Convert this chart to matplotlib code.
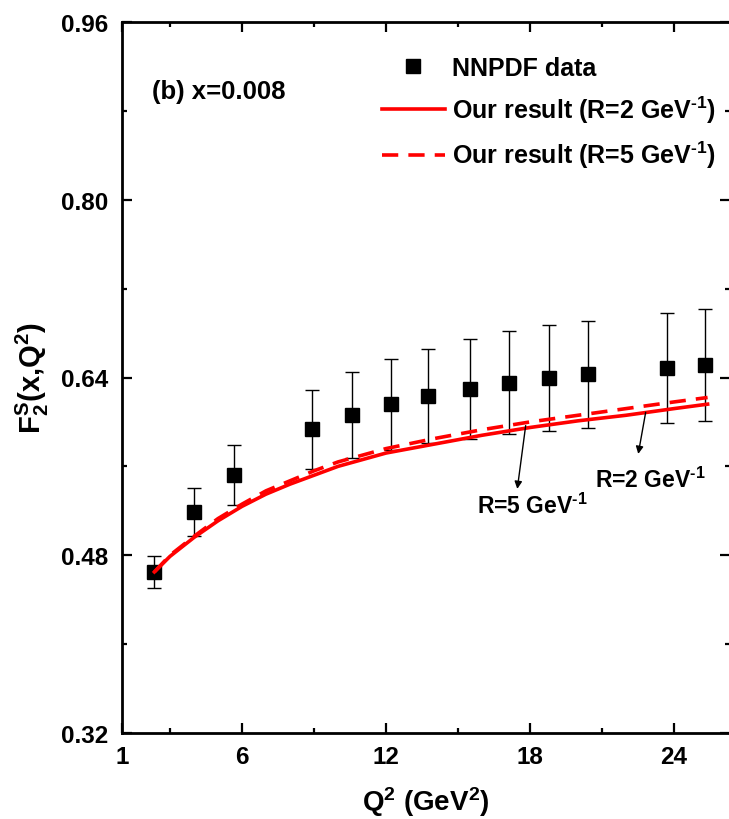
import matplotlib
matplotlib.use("Agg")
import matplotlib.pyplot as plt
from matplotlib.lines import Line2D
from matplotlib.ticker import FixedLocator, FormatStrFormatter

plt.rcParams['font.family'] = ['Liberation Sans', 'DejaVu Sans']
plt.rcParams['font.weight'] = 'bold'
plt.rcParams['mathtext.fontset'] = 'custom'
plt.rcParams['mathtext.rm'] = 'Liberation Sans:bold'
plt.rcParams['mathtext.it'] = 'Liberation Sans:bold'
plt.rcParams['mathtext.bf'] = 'Liberation Sans:bold'
plt.rcParams['mathtext.default'] = 'rm'

# NNPDF points at x = 0.008
q2_data = [2.35, 4.0, 5.65, 8.9, 10.58, 12.2, 13.74, 15.49, 17.14, 18.78, 20.4, 23.7, 25.29]
f2_data = [0.465, 0.519, 0.5525, 0.5934, 0.6063, 0.6159, 0.6234, 0.630, 0.6353, 0.6396, 0.6429, 0.6486, 0.6513]
f2_err = [0.0145, 0.0215, 0.027, 0.0356, 0.039, 0.041, 0.0427, 0.045, 0.0464, 0.0475, 0.048, 0.0497, 0.0503]

# model curves
q2_curve = [2.35, 3, 4, 5, 6, 7, 8, 9, 10, 12, 14, 16, 18, 20, 22, 24, 25.4]
f2_r2 = [0.465, 0.479, 0.496, 0.511, 0.524, 0.535, 0.544, 0.552, 0.560, 0.572, 0.580, 0.588,
         0.595, 0.601, 0.606, 0.612, 0.616]
f2_r5 = [0.465, 0.480, 0.497, 0.513, 0.526, 0.538, 0.547, 0.556, 0.564, 0.576, 0.585, 0.593,
         0.600, 0.606, 0.612, 0.618, 0.622]

x_major = [1, 6, 12, 18, 24]
x_minor = [3, 9, 15, 21]
y_major = [0.32, 0.48, 0.64, 0.80, 0.96]
y_minor = [0.40, 0.56, 0.72, 0.88]

INV = r'$^{\text{-1}}$'

W, H = 729, 820
fig = plt.figure(figsize=(W / 100, H / 100), dpi=100)
left, right, top, bottom = 122, 730, 23, 734
ax = fig.add_axes([left / W, (H - bottom) / H, (right - left) / W, (bottom - top) / H])

ax.errorbar(q2_data, f2_data, yerr=f2_err, fmt='s', color='black', ms=9.5,
            ecolor='black', elinewidth=1.0, capsize=4.8, capthick=1.0, zorder=2)
ax.plot(q2_curve, f2_r2, '-', color='#ff0000', lw=2.6, zorder=3)
ax.plot(q2_curve, f2_r5, color='#ff0000', lw=2.6, linestyle=(0, (4.5, 2.8)), zorder=4)

ax.set_xlim(1, 1 + (right - left) / 24.0)
ax.set_ylim(0.32, 0.96)

ax.xaxis.set_major_locator(FixedLocator(x_major))
ax.xaxis.set_minor_locator(FixedLocator(x_minor))
ax.yaxis.set_major_locator(FixedLocator(y_major))
ax.yaxis.set_minor_locator(FixedLocator(y_minor))
ax.yaxis.set_major_formatter(FormatStrFormatter('%.2f'))

for s in ax.spines.values():
    s.set_linewidth(2.0)
ax.tick_params(which='both', direction='in', top=True, right=True, width=1.6)
ax.tick_params(which='major', length=7, labelsize=17.5, pad=9)
ax.tick_params(which='minor', length=3.5)
ax.tick_params(axis='y', which='major', pad=10)
for lbl in ax.get_xticklabels() + ax.get_yticklabels():
    lbl.set_fontweight('bold')

ax.set_xlabel(r'Q$^2$ (GeV$^2$)', fontsize=20, fontweight='bold', labelpad=11)
ax.set_ylabel(r'F$_2^S$(x,Q$^2$)', fontsize=21, fontweight='bold', labelpad=7)

ax.text(2.25, 0.898, '(b) x=0.008', fontsize=18.5, fontweight='bold', va='center', ha='left')

handles = [
    Line2D([], [], marker='s', color='black', ls='none', ms=9.5),
    Line2D([], [], color='#ff0000', lw=2.6),
    Line2D([], [], color='#ff0000', lw=2.6, linestyle=(0, (4.5, 2.8))),
]
labels = ['NNPDF data', 'Our result (R=2 GeV' + INV + ')', 'Our result (R=5 GeV' + INV + ')']
leg = ax.legend(handles, labels, loc='upper left',
                bbox_to_anchor=((382 - left) / (right - left), 1 - (57 - top) / (bottom - top)),
                frameon=False, fontsize=18, handlelength=2.5, handletextpad=0.3,
                labelspacing=0.55, borderaxespad=0, borderpad=0)

arrow = dict(arrowstyle='-|>', color='black', lw=1.0, mutation_scale=11, shrinkA=0, shrinkB=0)
ax.annotate('', xy=(22.51, 0.5712), xytext=(22.82, 0.6087), arrowprops=arrow)
ax.text(23.0, 0.548, 'R=2 GeV' + INV, fontsize=16.5, fontweight='bold', ha='center', va='center')
ax.annotate('', xy=(17.47, 0.5397), xytext=(17.82, 0.5967), arrowprops=arrow)
ax.text(18.08, 0.5253, 'R=5 GeV' + INV, fontsize=16.5, fontweight='bold', ha='center', va='center')

fig.savefig('out.png', dpi=100)
